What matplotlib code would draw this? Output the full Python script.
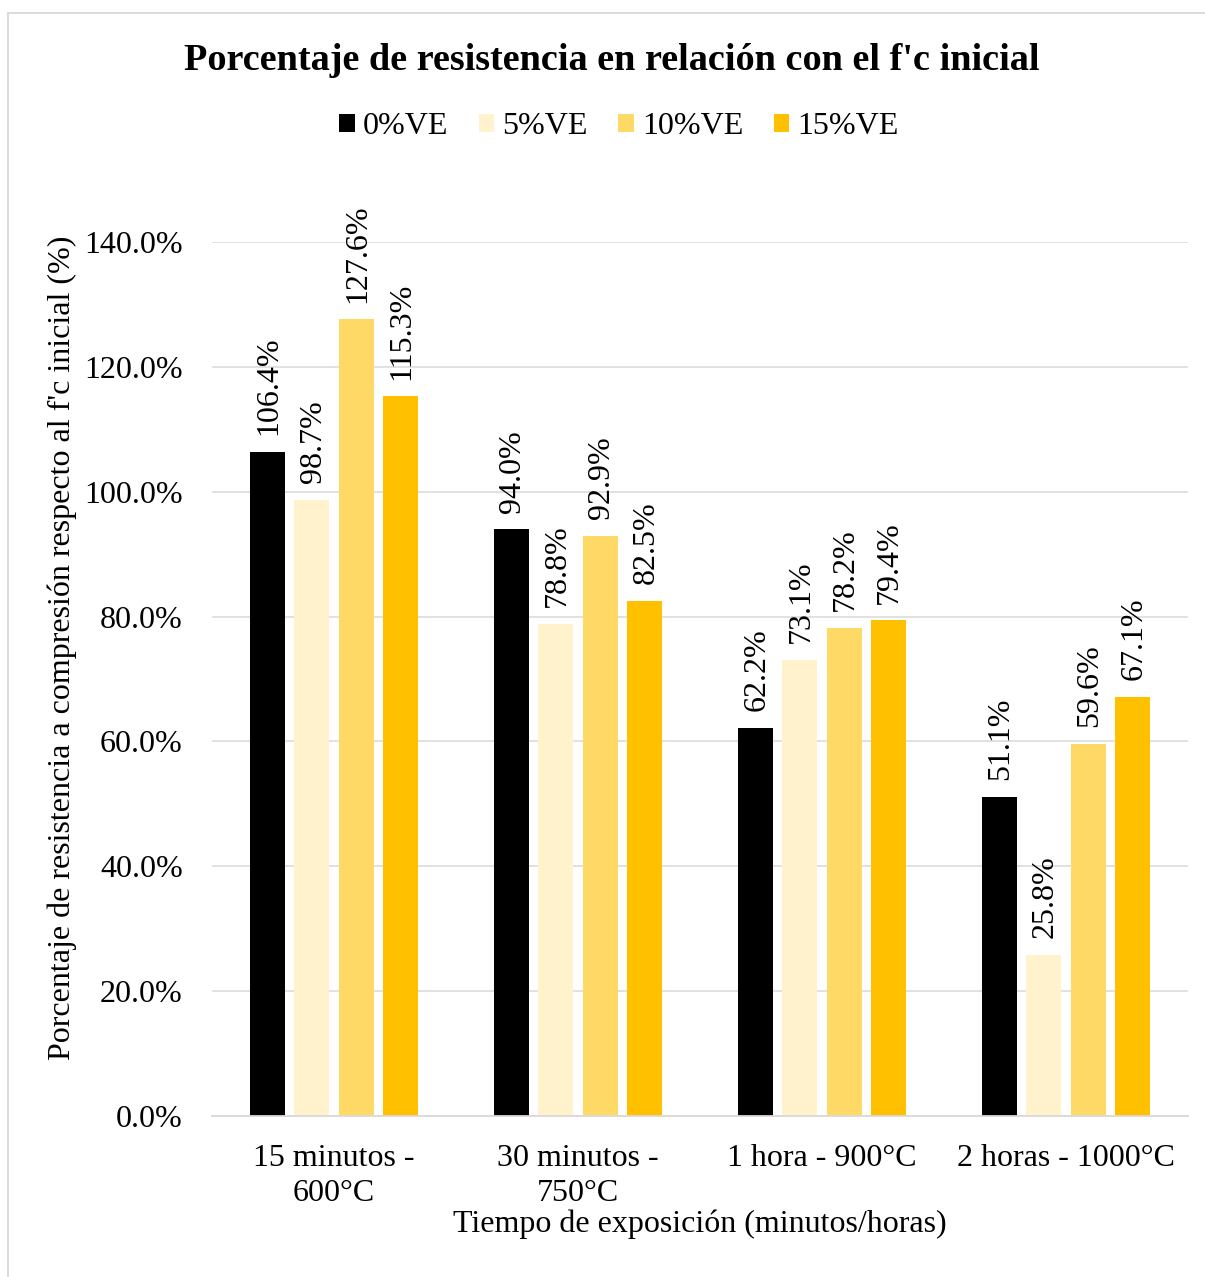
import matplotlib.pyplot as plt
from matplotlib.patches import Patch
from matplotlib.lines import Line2D
import numpy as np

categories = ['15 minutos -\n600°C', '30 minutos -\n750°C', '1 hora - 900°C', '2 horas - 1000°C']
series_names = ['0%VE', '5%VE', '10%VE', '15%VE']
ve_0 = [106.4, 94.0, 62.2, 51.1]
ve_5 = [98.7, 78.8, 73.1, 25.8]
ve_10 = [127.6, 92.9, 78.2, 59.6]
ve_15 = [115.3, 82.5, 79.4, 67.1]
y_ticks = [0, 20, 40, 60, 80, 100, 120, 140]

COLORS = ['#000000', '#FFF2CC', '#FFD966', '#FFC000']
FONT = 'Liberation Serif'
FS = 23

plt.rcParams['font.family'] = [FONT, 'DejaVu Serif']

fig = plt.figure(figsize=(12.05, 12.77), dpi=100)
ax = fig.add_axes([212 / 1205, 1 - 1116 / 1277, (1188 - 212) / 1205, (1116 - 242) / 1277])

x = np.arange(len(categories))
bar_w = 0.143
step = 0.1816
offsets = [-1.5 * step, -0.5 * step, 0.5 * step, 1.5 * step]
all_series = [ve_0, ve_5, ve_10, ve_15]

for vals, off, col in zip(all_series, offsets, COLORS):
    bars = ax.bar(x + off, vals, width=bar_w, color=col, zorder=3)
    for b, v in zip(bars, vals):
        ax.annotate('%.1f%%' % v, (b.get_x() + b.get_width() / 2, v),
                    xytext=(1, 12), textcoords='offset points',
                    rotation=90, ha='center', va='bottom',
                    fontsize=FS, annotation_clip=False)

ax.set_xlim(-0.5, len(categories) - 0.5)
ax.set_ylim(0, 140)
ax.set_yticks(y_ticks)
ax.set_yticklabels(['%.1f%%' % t for t in y_ticks])
ax.set_xticks(x)
ax.set_xticklabels(categories, linespacing=1.27)
ax.tick_params(axis='both', length=0, labelsize=FS)
ax.tick_params(axis='y', pad=21)
ax.tick_params(axis='x', pad=20)
ax.grid(axis='y', color='#D9D9D9', linewidth=1.1, zorder=0)
for s in ['top', 'right', 'left']:
    ax.spines[s].set_visible(False)
ax.spines['bottom'].set_color('#D9D9D9')
ax.spines['bottom'].set_linewidth(1.3)
ax.spines['bottom'].set_zorder(4)

fig.text(612 / 1205, 1 - 61 / 1277, "Porcentaje de resistencia en relación con el f'c inicial",
         ha='center', va='center', fontsize=27.5, fontweight='bold')
fig.text(700 / 1205, 1 - 1224 / 1277, 'Tiempo de exposición (minutos/horas)',
         ha='center', va='center', fontsize=FS)
fig.text(62 / 1205, 1 - 648 / 1277,
         "Porcentaje de resistencia a compresión respecto al f'c inicial (%)",
         ha='center', va='center', rotation=90, fontsize=FS)

handles = [Patch(facecolor=c, edgecolor='none') for c in COLORS]
fig.legend(handles, series_names, loc='center', bbox_to_anchor=(619 / 1205, 1 - 127 / 1277),
           ncol=4, frameon=False, fontsize=FS, handlelength=0.49, handleheight=0.49,
           handletextpad=0.25, columnspacing=0.95, borderaxespad=0)

# outer chart border (left and top only visible in reference)
fig.add_artist(Line2D([8 / 1205, 8 / 1205], [0, 1 - 13 / 1277], transform=fig.transFigure,
                      color='#D9D9D9', linewidth=1.3))
fig.add_artist(Line2D([8 / 1205, 1], [1 - 13 / 1277, 1 - 13 / 1277], transform=fig.transFigure,
                      color='#D9D9D9', linewidth=1.3))

fig.savefig('out.png', dpi=100)
